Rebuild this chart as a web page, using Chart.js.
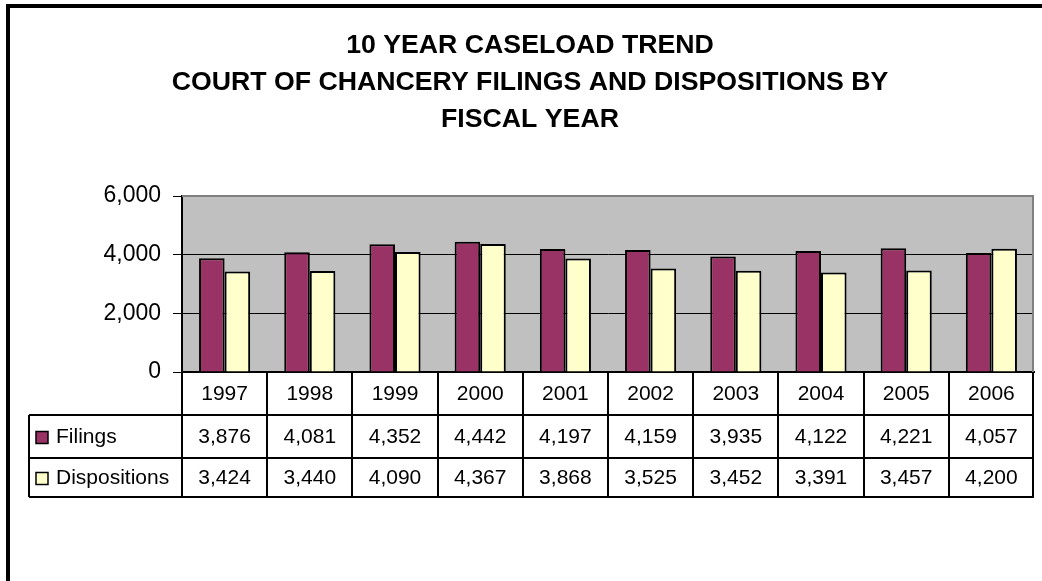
<!DOCTYPE html>
<html>
<head>
<meta charset="utf-8">
<script src="https://cdn.jsdelivr.net/npm/chart.js@4/dist/chart.umd.min.js"></script>
<style>
  html, body { margin: 0; padding: 0; background: #fff; }
  #wrap { width: 1042px; height: 581px; }
</style>
</head>
<body>
<div id="wrap"><canvas id="c" width="1042" height="581"></canvas></div>
<script>
// Fiscal years and caseload counts
const years = ['1997', '1998', '1999', '2000', '2001', '2002', '2003', '2004', '2005', '2006'];
const filings = [3876, 4081, 4352, 4442, 4197, 4159, 3935, 4122, 4221, 4057];
const dispositions = [3424, 3440, 4090, 4367, 3868, 3525, 3452, 3391, 3457, 4200];
const seriesNames = ['Filings', 'Dispositions'];
const titleLines = ['10 YEAR CASELOAD TREND', 'COURT OF CHANCERY FILINGS AND DISPOSITIONS BY', 'FISCAL YEAR'];
const yTicks = [0, 2000, 4000, 6000];

const FONT = "'Liberation Sans', Arial, sans-serif";
const COLORS = ['#993366', '#FFFFCC'];
const PAD_LEFT = 26;
const fmt = v => v.toLocaleString('en-US');

// Gray plot background, white page
const plotBackground = {
  id: 'plotBackground',
  beforeDraw(chart) {
    const { ctx, chartArea: a } = chart;
    ctx.save();
    ctx.fillStyle = '#fff';
    ctx.fillRect(0, 0, chart.width, chart.height);
    ctx.fillStyle = '#C0C0C0';
    ctx.fillRect(a.left, a.top, a.right - a.left, a.bottom - a.top);
    ctx.restore();
  },
  afterDraw(chart) {
    const { ctx, chartArea: a } = chart;
    ctx.save();
    // plot area top and right edges
    ctx.fillStyle = '#808080';
    ctx.fillRect(a.left, a.top - 1, a.right - a.left, 2);
    ctx.fillRect(a.right - 2, a.top - 1, 2, a.bottom - a.top + 1);
    // outer frame
    ctx.fillStyle = '#000';
    ctx.fillRect(6, 4, chart.width - 6, 4);
    ctx.fillRect(6, 4, 4, chart.height - 4);
    ctx.restore();
  }
};

// Data table under the axis: year header row plus one row per series
const dataTable = {
  id: 'dataTable',
  afterDraw(chart) {
    const { ctx, chartArea: a } = chart;
    const xs = chart.scales.x;
    const step = xs.getPixelForValue(1) - xs.getPixelForValue(0);
    const yAxis = a.bottom;
    const rows = [yAxis, 415, 458, 497];
    const labelLeft = 29;
    const rowData = [filings, dispositions];

    ctx.save();
    ctx.strokeStyle = '#000';
    ctx.lineWidth = 2;
    ctx.beginPath();
    // horizontal rules of the series rows
    for (let r = 1; r < rows.length; r++) {
      ctx.moveTo(labelLeft, rows[r]);
      ctx.lineTo(a.right, rows[r]);
    }
    // column separators
    for (let i = 0; i <= years.length; i++) {
      const xb = Math.round(xs.getPixelForValue(i) - step / 2);
      ctx.moveTo(Math.min(xb, a.right - 1), rows[0]);
      ctx.lineTo(Math.min(xb, a.right - 1), rows[3]);
    }
    ctx.moveTo(labelLeft, rows[1]);
    ctx.lineTo(labelLeft, rows[3]);
    ctx.stroke();

    ctx.fillStyle = '#000';
    ctx.font = '21px ' + FONT;
    ctx.textAlign = 'center';
    ctx.textBaseline = 'middle';
    years.forEach((y, i) => {
      ctx.fillText(y, xs.getPixelForValue(i), (rows[0] + rows[1]) / 2 + 1);
    });
    rowData.forEach((vals, r) => {
      const cy = (rows[r + 1] + rows[r + 2]) / 2 + 1;
      vals.forEach((v, i) => ctx.fillText(fmt(v), xs.getPixelForValue(i), cy));
      // legend key
      ctx.fillStyle = COLORS[r];
      ctx.fillRect(36, cy - 6, 12, 12);
      ctx.lineWidth = 1.5;
      ctx.strokeRect(36, cy - 6, 12, 12);
      ctx.fillStyle = '#000';
      ctx.textAlign = 'left';
      ctx.fillText(seriesNames[r], 56, cy);
      ctx.textAlign = 'center';
    });
    ctx.restore();
  }
};

new Chart(document.getElementById('c'), {
  type: 'bar',
  data: {
    labels: years,
    datasets: [
      { label: seriesNames[0], data: filings, backgroundColor: COLORS[0], borderColor: '#000', borderWidth: 2 },
      { label: seriesNames[1], data: dispositions, backgroundColor: COLORS[1], borderColor: '#000', borderWidth: 2 }
    ]
  },
  options: {
    responsive: false,
    animation: false,
    devicePixelRatio: 1,
    layout: { padding: { left: PAD_LEFT, right: 8, top: 0, bottom: 0 } },
    datasets: { bar: { categoryPercentage: 0.6, barPercentage: 1.0 } },
    plugins: {
      legend: { display: false },
      tooltip: { enabled: false },
      title: {
        display: true,
        text: titleLines,
        color: '#000',
        font: { family: FONT, size: 26.7, weight: 'bold', lineHeight: '37px' },
        padding: { top: 27, bottom: 58 }
      }
    },
    scales: {
      x: {
        grid: { display: false },
        border: { display: true, color: '#000', width: 2 },
        ticks: { display: false },
        afterFit(scale) { scale.height = 581 - 372; }
      },
      y: {
        min: 0,
        max: 6000,
        afterBuildTicks(scale) { scale.ticks = yTicks.map(v => ({ value: v })); },
        ticks: {
          color: '#000',
          padding: 12,
          font: { family: FONT, size: 23 },
          callback: v => fmt(v)
        },
        grid: {
          color: ctx => (ctx.tick && ctx.tick.value === 6000) ? 'rgba(0,0,0,0)' : '#000',
          tickColor: '#000',
          tickLength: 9,
          lineWidth: 1
        },
        border: { display: true, color: '#000', width: 2 },
        afterFit(scale) { scale.width = 182 - PAD_LEFT; }
      }
    }
  },
  plugins: [plotBackground, dataTable]
});
</script>
</body>
</html>
